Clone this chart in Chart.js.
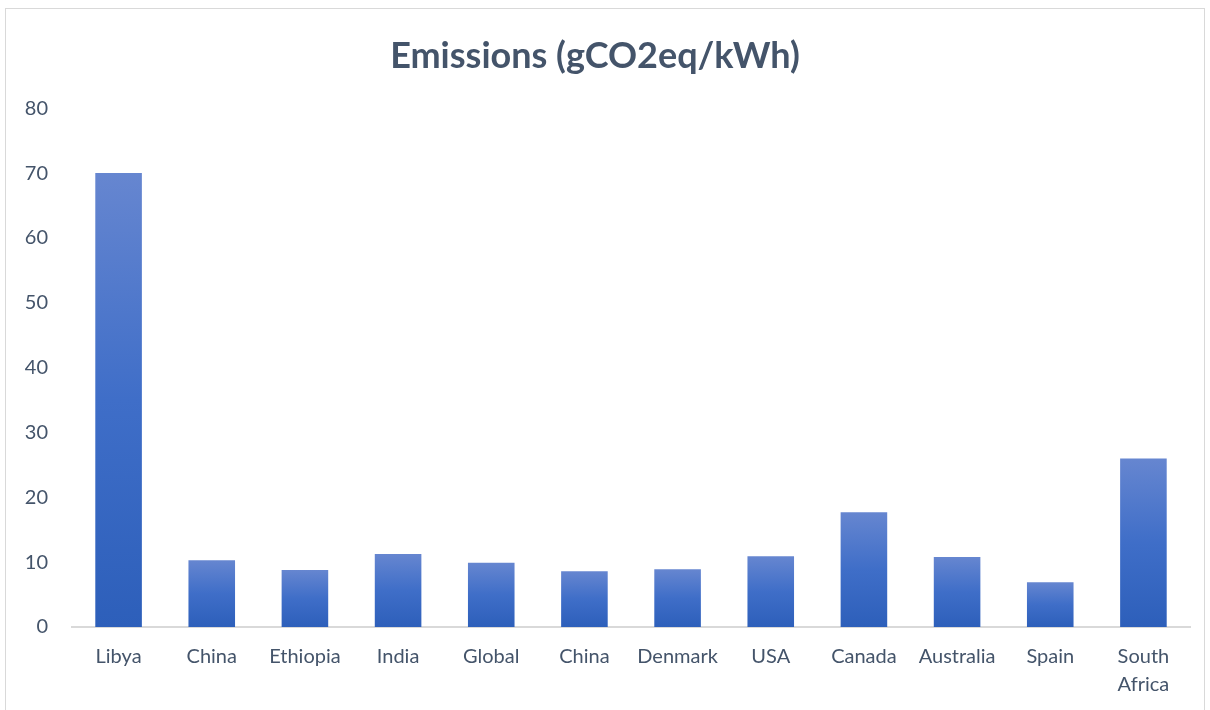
<!DOCTYPE html>
<html>
<head>
<meta charset="utf-8">
<script src="https://cdn.jsdelivr.net/npm/chart.js@4.4.0/dist/chart.umd.min.js"></script>
<style>
  body { margin: 0; background: #fff; }
  #wrap { position: relative; width: 1210px; height: 710px; }
  #frame { position: absolute; left: 5px; top: 8px; width: 1198px; height: 720px; border: 1px solid #d9d9d9; }
</style>
</head>
<body>
<div id="wrap">
  <div id="frame"></div>
  <canvas id="emissions" width="1210" height="710"></canvas>
</div>
<script>
// categories and values
var countries = ["Libya", "China", "Ethiopia", "India", "Global", "China", "Denmark", "USA", "Canada", "Australia", "Spain", ["South", "Africa"]];
var emissions = [70, 10.3, 8.8, 11.25, 9.9, 8.6, 8.9, 10.9, 17.7, 10.8, 6.9, 26.0];
var yTicks = [0, 10, 20, 30, 40, 50, 60, 70, 80];

var textColor = "#44546a";

function barGradient(ctx) {
  var chart = ctx.chart;
  if (!chart.chartArea || ctx.type !== "data") return "#4472c4";
  var y = chart.scales.y;
  var top = y.getPixelForValue(ctx.raw);
  var bottom = y.getPixelForValue(0);
  var g = chart.ctx.createLinearGradient(0, top, 0, bottom);
  g.addColorStop(0, "#6686d0");
  g.addColorStop(0.5, "#3f6ec8");
  g.addColorStop(1, "#2d5fba");
  return g;
}

new Chart(document.getElementById("emissions"), {
  type: "bar",
  data: {
    labels: countries,
    datasets: [{
      label: "Emissions",
      data: emissions,
      backgroundColor: barGradient,
      barPercentage: 0.5,
      categoryPercentage: 1.0
    }]
  },
  options: {
    responsive: false,
    animation: false,
    layout: { padding: { left: 0, right: 20, top: 20, bottom: 0 } },
    plugins: {
      legend: { display: false },
      tooltip: { enabled: false },
      title: {
        display: true,
        text: "Emissions (gCO2eq/kWh)",
        color: textColor,
        font: { family: "Lato", size: 36, weight: "bold" },
        padding: { top: 15, bottom: 30 }
      }
    },
    scales: {
      x: {
        afterFit: function (axis) { axis.height = 83; },
        grid: { display: false, drawTicks: false },
        border: { color: "#d9d9d9", width: 2 },
        ticks: {
          color: textColor,
          font: { family: "Lato", size: 20, lineHeight: 1.4 },
          padding: 16,
          maxRotation: 0,
          autoSkip: false
        }
      },
      y: {
        min: 0,
        max: 80,
        afterBuildTicks: function (axis) {
          axis.ticks = yTicks.map(function (v) { return { value: v }; });
        },
        afterFit: function (axis) { axis.width = 72; },
        grid: { display: false, drawTicks: false },
        border: { display: false },
        ticks: {
          color: textColor,
          font: { family: "Lato", size: 20 },
          padding: 24
        }
      }
    }
  }
});
</script>
</body>
</html>
